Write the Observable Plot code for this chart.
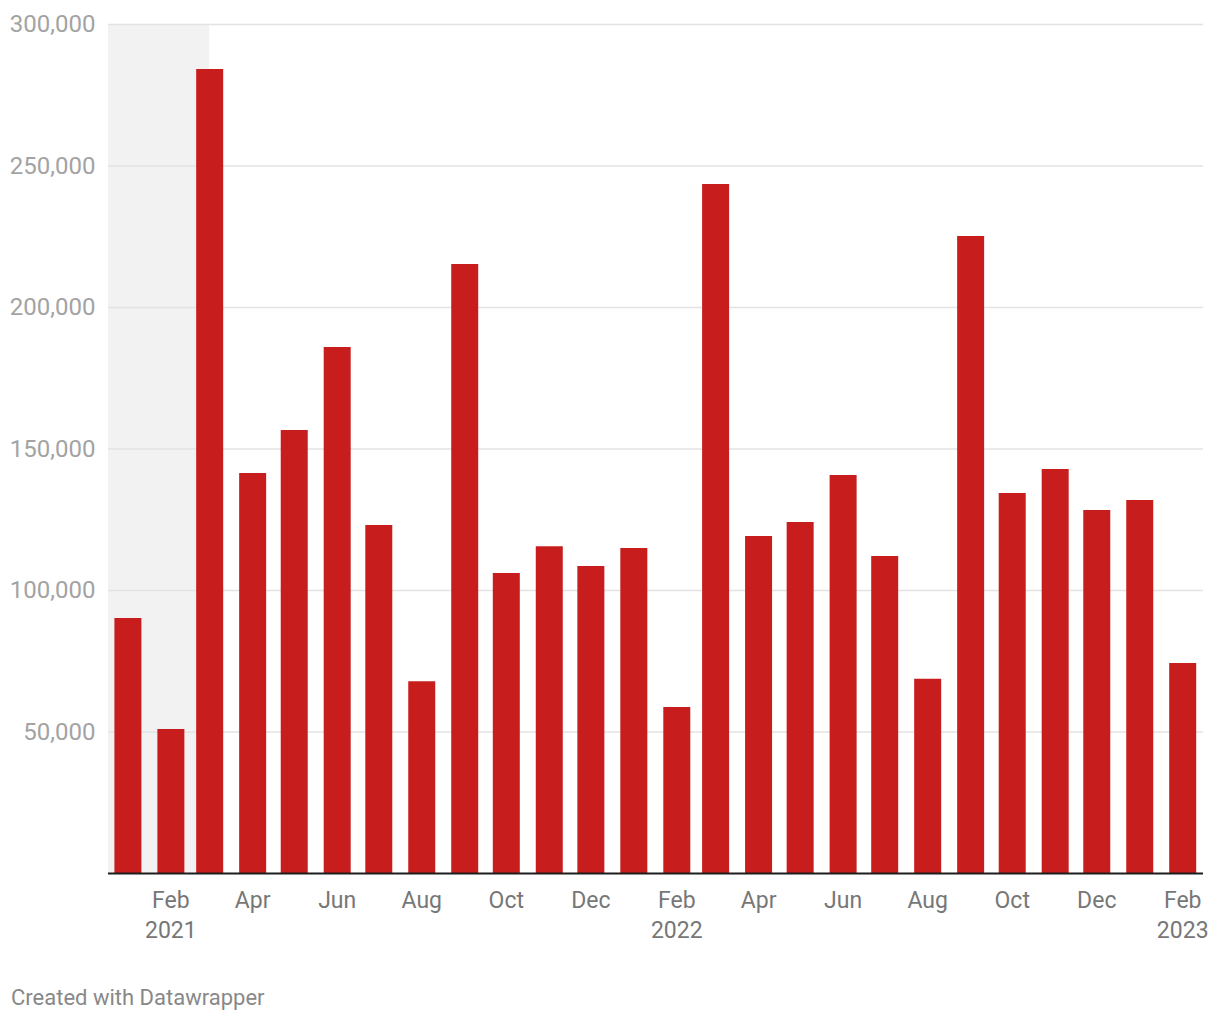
<!DOCTYPE html>
<html>
<head>
<meta charset="utf-8">
<script src="https://cdn.jsdelivr.net/npm/d3@7"></script>
<script src="https://cdn.jsdelivr.net/npm/@observablehq/plot@0.6"></script>
<style>
  html, body { margin: 0; padding: 0; background: #fff; }
  #wrap { position: relative; width: 1220px; height: 1020px; font-family: Roboto, sans-serif; }
  #footer { position: absolute; left: 11px; top: 987px; font-size: 22px; line-height: 1; color: #888; }
</style>
</head>
<body>
<div id="wrap">
  <div id="chart"></div>
  <div id="footer">Created with Datawrapper</div>
</div>
<script>
const months = ["2021-01","2021-02","2021-03","2021-04","2021-05","2021-06","2021-07","2021-08","2021-09","2021-10","2021-11","2021-12",
                "2022-01","2022-02","2022-03","2022-04","2022-05","2022-06","2022-07","2022-08","2022-09","2022-10","2022-11","2022-12",
                "2023-01","2023-02"];
const values = [90100, 50900, 284100, 141300, 156500, 185900, 123000, 67800, 215200, 106000, 115500, 108500,
                114800, 58700, 243500, 119100, 124000, 140600, 112000, 68600, 225100, 134300, 142800, 128300,
                131800, 74200];
const tickMonths = ["2021-02","2021-04","2021-06","2021-08","2021-10","2021-12","2022-02","2022-04","2022-06","2022-08","2022-10","2022-12","2023-02"];
const tickLabels = ["Feb\n2021","Apr","Jun","Aug","Oct","Dec","Feb\n2022","Apr","Jun","Aug","Oct","Dec","Feb\n2023"];
const yTicks = [50000, 100000, 150000, 200000, 250000, 300000];
const xDomain = ["2020-12-18", "2023-02-16"];
const shadeRange = ["2020-12-18", "2021-03-01"];

const parse = s => new Date(s.length === 7 ? s + "-01T00:00:00Z" : s + "T00:00:00Z");
const data = months.map((m, i) => ({date: parse(m), value: values[i]}));
const labelMap = new Map(tickMonths.map((m, i) => [+parse(m), tickLabels[i]]));
const shade = [{x1: parse(shadeRange[0]), x2: parse(shadeRange[1]), y1: 0, y2: 300000}];

const chart = Plot.plot({
  width: 1220,
  height: 960,
  marginLeft: 108,
  marginRight: 17,
  marginTop: 24,
  marginBottom: 87,
  style: {fontFamily: "Roboto, sans-serif", background: "#fff", overflow: "visible"},
  x: {type: "utc", domain: xDomain.map(parse), axis: null},
  y: {domain: [0, 300000], axis: null},
  marks: [
    Plot.rect(shade, {x1: "x1", x2: "x2", y1: "y1", y2: "y2", fill: "#f2f2f2"}),
    Plot.ruleY(yTicks, {stroke: "#e3e3e3", strokeWidth: 1.5}),
    Plot.ruleX(data, {x: "date", y1: 0, y2: "value", stroke: "#c71e1d", strokeWidth: 27}),
    Plot.ruleY([0], {stroke: "#1d1d1d", strokeWidth: 2}),
    Plot.axisY({ticks: yTicks, tickSize: 0, tickPadding: 13, fontSize: 24, fill: "#a3a3a3",
      tickFormat: d3.format(","), label: null}),
    Plot.axisX({ticks: tickMonths.map(parse), tickSize: 0, tickPadding: 13, fontSize: 23, fill: "#777",
      lineHeight: 1.3, tickFormat: d => labelMap.get(+d), label: null})
  ]
});
document.getElementById("chart").appendChild(chart);
</script>
</body>
</html>
